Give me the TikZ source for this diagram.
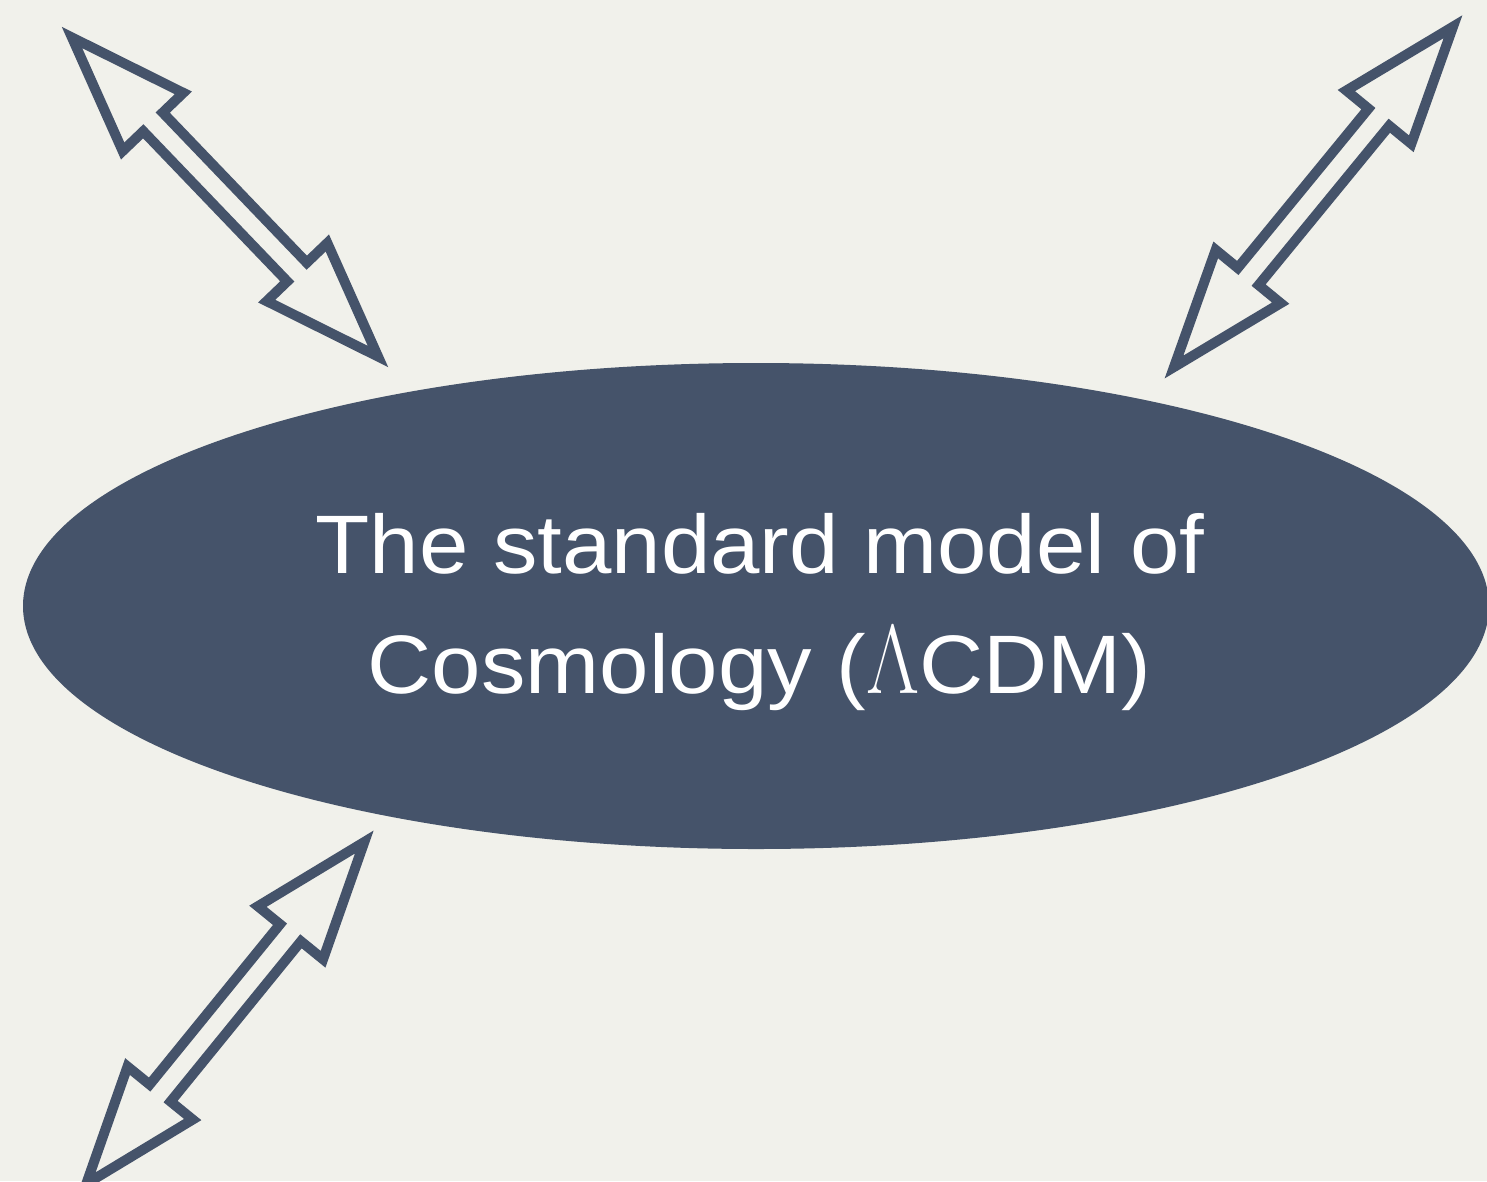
\documentclass[tikz,border=0pt]{standalone}
\usepackage{fontspec}
\setsansfont{Liberation Sans}
\usetikzlibrary{calc,shapes.geometric}

\definecolor{paper}{HTML}{F1F1EB}
\definecolor{slate}{HTML}{45536A}

\tikzset{
  hub/.style={ellipse, fill=slate, draw=none, inner sep=0pt,
              minimum width=1466pt, minimum height=486pt},
  caption/.style={text=white, inner sep=0pt, anchor=base,
                  font=\sffamily\fontsize{83}{120}\selectfont},
  fatarrow/.style={draw=slate, fill=paper, line width=10pt, line join=miter},
}

% hollow double-headed arrow between two tip coordinates
\newcommand\twowayarrow[2]{%
  \coordinate (#1h) at ($(#1)!117pt!(#2)$);
  \coordinate (#2h) at ($(#2)!117pt!(#1)$);
  \draw[fatarrow]
    (#1)
    -- ($(#1h)!42pt!90:(#2)$)
    -- ($(#1h)!13.5pt!90:(#2)$)
    -- ($(#2h)!13.5pt!-90:(#1)$)
    -- ($(#2h)!42pt!-90:(#1)$)
    -- (#2)
    -- ($(#2h)!42pt!90:(#1)$)
    -- ($(#2h)!13.5pt!90:(#1)$)
    -- ($(#1h)!13.5pt!-90:(#2)$)
    -- ($(#1h)!42pt!-90:(#2)$)
    -- cycle;
}

\newcommand\bigLambda{\scalebox{0.79}[1]{\rmfamily\fontsize{98}{98}\selectfont Λ}}

\begin{document}
\begin{tikzpicture}[x=1pt, y=-1pt]
  \fill[paper] (0,0) rectangle (1487,1181);
  \useasboundingbox (0,0) rectangle (1487,1181);
  \clip (0,0) rectangle (1487,1181);

  % central model
  \node[hub] (core) at (756,606) {};
  \node[caption] (line1) at (760,573) {\scalebox{1.07}[1]{The standard model of}};
  \node[caption] (line2) at (759.5,693) {\scalebox{1.07}[1]{Cosmology (\bigLambda CDM)}};

  % arrow tips
  \coordinate (nwA) at (72,37.5);
  \coordinate (nwB) at (378,356.5);
  \coordinate (neA) at (1453,26.7);
  \coordinate (neB) at (1174,367);
  \coordinate (swA) at (364.3,842);
  \coordinate (swB) at (86.3,1183.8);

  \twowayarrow{nwA}{nwB}
  \twowayarrow{neA}{neB}
  \twowayarrow{swA}{swB}
\end{tikzpicture}
\end{document}
